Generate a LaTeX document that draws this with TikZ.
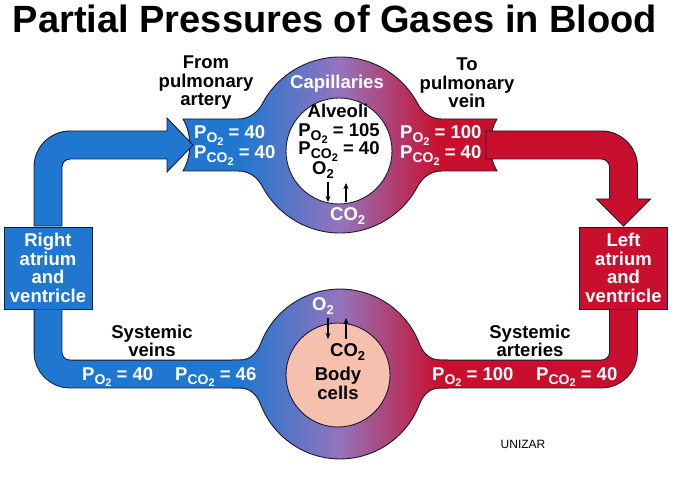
\documentclass[tikz,border=0pt]{standalone}
\usepackage{fontspec}
\setmainfont{Liberation Sans}
\usetikzlibrary{arrows.meta}

% subscripts for the partial pressures
\newcommand{\gsub}[1]{\lower4pt\hbox{\fontsize{14}{14}\selectfont #1\lower2.5pt\hbox{\fontsize{11}{11}\selectfont 2}}}
\newcommand{\pgas}[1]{P\gsub{#1}}
\newcommand{\gas}[1]{#1\lower4pt\hbox{\fontsize{13}{13}\selectfont 2}}

\begin{document}
\begin{tikzpicture}[x=1pt, y=-1pt]

% Define Blood Colors
\definecolor{VenousBlue}{HTML}{1F77D0}
\definecolor{ArterialRed}{HTML}{C8102E}
\definecolor{MixPurple}{HTML}{9474BC}
\definecolor{CellPink}{HTML}{F6C0AF}
\definecolor{RimColor}{HTML}{1E1A2A}

\tikzset{
  lbl/.style={font=\fontsize{18.5}{18.5}\selectfont\bfseries, align=center, inner sep=0pt},
  wlbl/.style={lbl, text=white},
  rim/.style={draw=RimColor, line width=0.9pt},
  vessel/.style={draw=RimColor, line width=0.9pt, double distance=27pt, rounded corners=22pt},
  bloodflow/.style={path picture={
    \fill[VenousBlue] (0,0) rectangle (240,478);
    \shade[left color=VenousBlue, right color=ArterialRed, middle color=MixPurple] (240,0) rectangle (440,478);
    \fill[ArterialRed] (440,0) rectangle (684,478);}},
  gasflow/.style={-{Stealth[length=6pt, width=5pt]}, line width=1.3pt, black},
}

\fill[white] (0,0) rectangle (684,478);
\useasboundingbox (0,0) rectangle (684,478);

\node[lbl, font=\fontsize{38}{38}\selectfont\bfseries, anchor=base] (title) at (335,33) {Partial Pressures of Gases in Blood};

% Heart chambers
\node[rim, fill=VenousBlue, wlbl, minimum width=88pt, minimum height=82pt] (ratrium) at (48,268) {Right\\atrium\\and\\ventricle};
\node[rim, fill=ArterialRed, wlbl, minimum width=88pt, minimum height=82pt] (latrium) at (623.5,268) {Left\\atrium\\and\\ventricle};

% Lung capillaries (ring with both bands)
\draw[rim, bloodflow] (183,119) -- (238,119) .. controls (250,119) and (258,112) .. (262.7,103)
  arc[start angle=208.5, end angle=331.5, radius=88]
  .. controls (422,112) and (430,119) .. (442,119) -- (497,119)
  .. controls (488,134) and (488,156) .. (497,171) -- (442,171)
  .. controls (430,171) and (422,178) .. (417.3,187)
  arc[start angle=28.5, end angle=151.5, radius=88]
  .. controls (258,178) and (250,171) .. (238,171) -- (183,171)
  .. controls (192,156) and (192,134) .. (183,119) -- cycle;
\draw[rim, fill=white] (339,151) circle[radius=53];

% Pulmonary artery and vein
\draw[rim, fill=VenousBlue] (34,226) -- (34,167) arc[start angle=180, end angle=270, radius=36]
  -- (167,131) -- (167,118) -- (193,145) -- (167,172) -- (167,159) -- (70,159)
  arc[start angle=270, end angle=180, radius=8] -- (62,226) -- cycle;
\draw[rim, fill=ArterialRed] (486,131) -- (601.5,131) arc[start angle=270, end angle=360, radius=36]
  -- (637.5,199) -- (650.5,199) -- (623.5,226) -- (596.5,199) -- (609.5,199) -- (609.5,167)
  arc[start angle=0, end angle=-90, radius=8] -- (486,159) -- cycle;

% Systemic veins and arteries
\coordinate (tissue) at (340,374);
\draw[vessel, double=VenousBlue] (ratrium.south) |- (tissue);
\draw[vessel, double=ArterialRed] (tissue) -| (latrium.south);

% Tissue capillaries
\path[bloodflow] (232,360) -- (240,360) .. controls (250,360) and (257,353) .. (260.5,344)
  arc[start angle=200.7, end angle=339.3, radius=85]
  .. controls (423,353) and (430,360) .. (440,360) -- (448,360) -- (448,388) -- (440,388)
  .. controls (430,388) and (423,395) .. (419.5,404)
  arc[start angle=20.7, end angle=159.3, radius=85]
  .. controls (257,395) and (250,388) .. (240,388) -- (232,388) -- cycle;
\draw[rim] (232,360) -- (240,360) .. controls (250,360) and (257,353) .. (260.5,344)
  arc[start angle=200.7, end angle=339.3, radius=85]
  .. controls (423,353) and (430,360) .. (440,360) -- (448,360);
\draw[rim] (448,388) -- (440,388) .. controls (430,388) and (423,395) .. (419.5,404)
  arc[start angle=20.7, end angle=159.3, radius=85]
  .. controls (257,395) and (250,388) .. (240,388) -- (232,388);
\draw[rim, fill=CellPink] (338,375) circle[radius=52];

% Labels
\node[lbl] (fromart) at (206,83) {From\\pulmonary\\artery};
\node[lbl] (tovein) at (467,83) {To\\pulmonary\\vein};
\node[wlbl, anchor=base] (capl) at (337,89) {Capillaries};
\node[lbl, anchor=base] (alv) at (338,118) {Alveoli};
\node[lbl, anchor=base] (alvpo) at (339,137) {\pgas{O} = 105};
\node[lbl, anchor=base] (alvpco) at (339,155) {\pgas{CO} = 40};
\node[lbl, anchor=base west] (alvo) at (312,175) {\gas{O}};
\node[wlbl, anchor=base west] (alvco) at (330,220) {\gas{CO}};
\node[lbl] (sysveins) at (152,341) {Systemic\\veins};
\node[lbl] (sysart) at (530,341) {Systemic\\arteries};
\node[wlbl, anchor=base west] (cello) at (312,310) {\gas{O}};
\node[lbl, anchor=base west] (cellco) at (330,356) {\gas{CO}};
\node[lbl] (cells) at (338,383.5) {Body\\cells};

\foreach \name/\x/\y/\txt in {
  artpo/194/139/{\pgas{O} = 40}, artpco/194/159/{\pgas{CO} = 40},
  veinpo/400/139/{\pgas{O} = 100}, veinpco/400/159/{\pgas{CO} = 40},
  svpo/82/380/{\pgas{O} = 40}, svpco/175/380/{\pgas{CO} = 46},
  sapo/432/380/{\pgas{O} = 100}, sapco/536/380/{\pgas{CO} = 40}%
} {
  \node[wlbl, anchor=base west] (\name) at (\x,\y) {\txt};
}

% Gas exchange
\coordinate (alvdown) at (328,182);
\coordinate (alvup) at (346,202);
\draw[gasflow] (alvdown) -- ++(0,20);
\draw[gasflow] (alvup) -- ++(0,-19);
\coordinate (celldown) at (328,318);
\coordinate (cellup) at (346,339);
\draw[gasflow] (celldown) -- ++(0,21);
\draw[gasflow] (cellup) -- ++(0,-21);

\node[font=\fontsize{12}{12}\selectfont] (unizar) at (523,444) {UNIZAR};

\end{tikzpicture}
\end{document}
